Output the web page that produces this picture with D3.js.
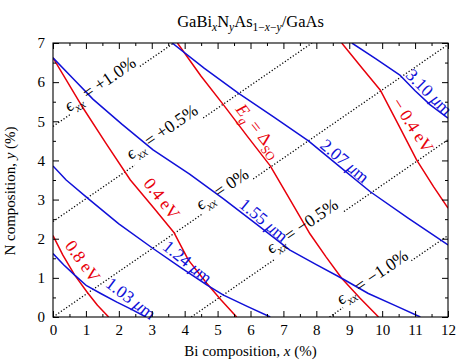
<!DOCTYPE html>
<html><head><meta charset="utf-8">
<script src="https://cdn.jsdelivr.net/npm/d3@7"></script>
<style>
body{margin:0;background:#fff}
svg{display:block;font-family:'Liberation Serif','DejaVu Serif',serif}
svg text{font-family:'Liberation Serif','DejaVu Serif',serif;fill:#000}
</style>
</head><body>
<svg id="c" width="474" height="363"></svg>
<script>
// ---------- data ----------
const xTicks = [0,1,2,3,4,5,6,7,8,9,10,11,12];
const yTicks = [0,1,2,3,4,5,6,7];
const xMinor = [0.5,1.5,2.5,3.5,4.5,5.5,6.5,7.5,8.5,9.5,10.5,11.5];
const yMinor = [0.5,1.5,2.5,3.5,4.5,5.5,6.5];

// strain contours (dotted), end points (x %, y %)
const strainNames = ["+1.0%","+0.5%","0%","\u22120.5%","\u22121.0%"];
const strainLines = [
  [[0,4.87],[3.67,7]],
  [[0,2.44],[7.87,7]],
  [[0,0],[12,6.96]],
  [[4.2,0],[12,4.53]],
  [[8.4,0],[12,2.08]]
];

// band-gap contours (red)
const gap08  = [[0,2.08],[0.3,1.58],[0.66,1.07],[1.05,0.62],[1.35,0.3],[1.69,0]];
const gap04  = [[0,6.62],[0.86,5.41],[1.6,4.45],[2.35,3.5],[3.05,2.8],[3.68,2.15],[4.11,1.46],[4.67,0.86],[5.1,0.44],[5.58,0]];
const gapSO  = [[3.78,7],[4.5,6.15],[5.18,5.42],[5.9,4.62],[6.6,3.86],[7.2,3.0],[7.81,2.12],[8.3,1.53],[8.77,0.99],[9.33,0.48],[9.89,0]];
const gapM04 = [[8.77,7],[9.4,6.35],[9.94,5.8],[10.5,4.9],[11.05,4.01],[11.56,3.33],[12,2.78]];

// wavelength contours (blue)
const wl103 = [[0,1.62],[0.33,1.33],[0.66,1.07],[1.02,0.8],[1.45,0.6],[1.94,0.38],[2.4,0.19],[2.82,0]];
const wl124 = [[0,3.86],[0.4,3.5],[1.06,3.03],[2.0,2.38],[3.04,1.75],[3.85,1.28],[4.67,0.82],[5.18,0.56],[5.9,0.27],[6.6,0]];
const wl155 = [[0,6.62],[0.6,6.1],[1.22,5.56],[2.1,4.92],[3.04,4.27],[4.15,3.65],[5.18,3.02],[6.2,2.36],[7.2,1.71],[8.0,1.34],[8.77,0.99],[9.58,0.6],[10.4,0.29],[11.16,0]];
const wl207 = [[3.62,7],[4.6,6.35],[5.63,5.72],[6.7,5.11],[7.76,4.5],[8.7,3.85],[9.64,3.2],[10.8,2.52],[12,1.84]];
const wl310 = [[9.08,7],[9.8,6.6],[10.55,6.17],[11.0,5.78],[11.46,5.42],[12,5.08]];

// ---------- layout ----------
const L = 53, R = 448, T = 43, B = 317;
const RED = "#e8000b", BLUE = "#1010d8";
const FS = 15, TFS = 16.5, LFS = 17.5;

const svg = d3.select("#c");
const x = d3.scaleLinear().domain([0,12]).range([L,R]);
const y = d3.scaleLinear().domain([0,7]).range([B,T]);

svg.append("defs").append("clipPath").attr("id","clip")
  .append("rect").attr("x",L).attr("y",T).attr("width",R-L).attr("height",B-T);

const line = d3.line().x(d=>x(d[0])).y(d=>y(d[1]));
const dotted = svg.append("g").attr("clip-path","url(#clip)");
const boxes = svg.append("g");
const colored = svg.append("g").attr("clip-path","url(#clip)");
const labelG = svg.append("g");

strainLines.forEach(s=>{
  dotted.append("path").attr("d",line(s)).attr("fill","none")
    .attr("stroke","#000").attr("stroke-width",1.3).attr("stroke-dasharray","1.2,2");
});
[gap08,gap04,gapSO,gapM04].forEach(s=>{
  colored.append("path").attr("d",line(s)).attr("fill","none")
    .attr("stroke",RED).attr("stroke-width",1.5).attr("stroke-linejoin","round");
});
[wl103,wl124,wl155,wl207,wl310].forEach(s=>{
  colored.append("path").attr("d",line(s)).attr("fill","none")
    .attr("stroke",BLUE).attr("stroke-width",1.5).attr("stroke-linejoin","round");
});

// ---------- axes ----------
function clean(g){ g.select(".domain").remove(); g.attr("font-family",null); g.selectAll("text").attr("font-size",FS); }
svg.append("g").attr("transform",`translate(0,${B})`)
  .call(d3.axisBottom(x).tickValues(xTicks).tickSize(-6).tickPadding(7).tickFormat(d3.format("d"))).call(clean);
svg.append("g").attr("transform",`translate(0,${B})`)
  .call(d3.axisBottom(x).tickValues(xMinor).tickSize(-3).tickFormat("")).call(clean);
svg.append("g").attr("transform",`translate(0,${T})`)
  .call(d3.axisTop(x).tickValues(xTicks).tickSize(-6).tickFormat("")).call(clean);
svg.append("g").attr("transform",`translate(0,${T})`)
  .call(d3.axisTop(x).tickValues(xMinor).tickSize(-3).tickFormat("")).call(clean);
svg.append("g").attr("transform",`translate(${L},0)`)
  .call(d3.axisLeft(y).tickValues(yTicks).tickSize(-6).tickPadding(8).tickFormat(d3.format("d"))).call(clean);
svg.append("g").attr("transform",`translate(${L},0)`)
  .call(d3.axisLeft(y).tickValues(yMinor).tickSize(-3).tickFormat("")).call(clean);
svg.append("g").attr("transform",`translate(${R},0)`)
  .call(d3.axisRight(y).tickValues(yTicks).tickSize(-6).tickFormat("")).call(clean);
svg.append("g").attr("transform",`translate(${R},0)`)
  .call(d3.axisRight(y).tickValues(yMinor).tickSize(-3).tickFormat("")).call(clean);
svg.selectAll(".tick line").attr("stroke","#000").attr("stroke-width",1);

svg.append("rect").attr("x",L).attr("y",T).attr("width",R-L).attr("height",B-T)
  .attr("fill","none").attr("stroke","#000").attr("stroke-width",1.1);

// ---------- rich text helper ----------
function rich(textSel, parts, size){
  let shift = 0;
  const d = Math.round(size*0.27);
  parts.forEach(p=>{
    const ts = textSel.append("tspan").text(p.t);
    if(p.it) ts.attr("font-style","italic");
    const target = p.sub ? d : 0;
    if(target!==shift){ ts.attr("dy", target-shift); shift = target; }
    ts.attr("font-size", p.sub ? size*0.7 : size);
  });
}

// title
const title = svg.append("text").attr("x",(L+R)/2).attr("y",27).attr("text-anchor","middle");
rich(title,[{t:"GaBi"},{t:"x",it:1,sub:1},{t:"N"},{t:"y",it:1,sub:1},{t:"As"},
  {t:"1\u2212",sub:1},{t:"x",it:1,sub:1},{t:"\u2212",sub:1},{t:"y",it:1,sub:1},{t:"/GaAs"}],TFS);

// axis titles
const xl = svg.append("text").attr("x",(L+R)/2).attr("y",356).attr("text-anchor","middle");
rich(xl,[{t:"Bi composition, "},{t:"x",it:1},{t:" (%)"}],FS);
const yl = svg.append("text").attr("transform",`translate(15,191) rotate(-90)`).attr("text-anchor","middle");
rich(yl,[{t:"N composition, "},{t:"y",it:1},{t:" (%)"}],FS);

// ---------- in-plot labels ----------
function label(px,py,ang,parts,color,bg){
  const tr = `translate(${x(px)},${y(py)}) rotate(${ang})`;
  const g = labelG.append("g").attr("transform",tr);
  const t = g.append("text").attr("text-anchor","middle").attr("dy","0.35em").style("fill",color);
  rich(t,parts,LFS);
  if(bg){
    const bb = t.node().getBBox();
    boxes.append("rect").attr("transform",tr).attr("x",bb.x).attr("y",bb.y+1)
      .attr("width",bb.width).attr("height",bb.height+1).attr("fill","#fff");
  }
}
const strainPos = [[1.43,5.95],[3.31,4.73],[5.14,3.27],[7.57,2.32],[9.7,1.02]];
strainNames.forEach((s,i)=>{
  label(strainPos[i][0],strainPos[i][1],-34.6,
    [{t:"\u03f5",it:1},{t:"xx",it:1,sub:1},{t:" = "+s}],"#000",true);
});

label(0.9,1.42,54,[{t:"0.8 eV"}],RED);
label(3.3,3.02,52,[{t:"0.4 eV"}],RED);
label(6.25,4.76,52,[{t:"E",it:1},{t:"g",it:1,sub:1},{t:" = \u0394"},{t:"SO",sub:1}],RED);
label(10.92,4.9,57,[{t:"\u2212 0.4 eV"}],RED);

label(2.36,0.47,37,[{t:"1.03 "},{t:"\u03bc",it:1},{t:"m"}],BLUE);
label(4.08,1.4,39,[{t:"1.24 "},{t:"\u03bc",it:1},{t:"m"}],BLUE);
label(6.4,2.47,40,[{t:"1.55 "},{t:"\u03bc",it:1},{t:"m"}],BLUE);
label(8.86,3.98,40,[{t:"2.07 "},{t:"\u03bc",it:1},{t:"m"}],BLUE);
label(11.42,5.74,45,[{t:"3.10 "},{t:"\u03bc",it:1},{t:"m"}],BLUE);
</script>
</body></html>
